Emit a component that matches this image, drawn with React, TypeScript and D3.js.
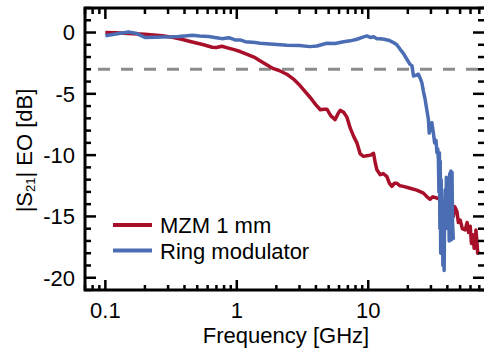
import React from "react";
import * as d3 from "d3";

const mzmFreq = [0.1,0.12,0.15,0.2,0.27,0.33,0.38,0.45,0.55,0.65,0.7,0.77,0.85,0.97,1.06,1.16,1.38,1.5,1.7,1.9,2.1,2.4,2.7,3.04,3.3,3.62,4.0,4.32,4.6,4.85,5.2,5.6,5.9,6.12,6.5,6.88,7.3,7.73,8.2,8.69,9.2,9.77,10.4,10.97,11.3,11.64,12.34,13.0,13.87,14.5,15.14,15.8,16.53,17.5,18.5,20.8,23.4,26.3,28.0,29.6,31.0,33.3,35.3,38.5,40.9,42.0,43.3,44.4,45.5,47.3,48.5,50.1,52.0,54.7,56.5,58.0,59.7,61.0,62.5,64.0,65.1,66.0,67.1,68.0,69.1];
const mzmDb = [0,-0.02,-0.08,-0.15,-0.27,-0.4,-0.55,-0.75,-0.98,-1.2,-1.22,-1.12,-1.25,-1.42,-1.55,-1.72,-2.05,-2.3,-2.65,-2.95,-3.1,-3.4,-3.8,-4.35,-4.8,-5.3,-5.9,-6.3,-6.25,-6.25,-6.8,-7.1,-6.6,-6.35,-6.5,-6.9,-7.8,-8.45,-9.0,-9.9,-10.1,-10.05,-10.0,-9.85,-10.6,-11.2,-11.6,-11.5,-11.75,-12.3,-12.55,-12.3,-12.3,-12.5,-12.55,-12.7,-12.85,-13.1,-13.4,-13.6,-13.4,-13.5,-13.6,-14.0,-14.8,-15.3,-14.6,-15.0,-14.2,-14.6,-15.5,-15.3,-16.0,-16.1,-15.5,-16.3,-15.8,-17.2,-16.5,-17.6,-17.5,-16.1,-17.0,-18.0,-17.8];

const ringFreq = [0.1,0.12,0.15,0.17,0.2,0.24,0.27,0.32,0.36,0.42,0.46,0.52,0.61,0.7,0.77,0.87,0.97,1.06,1.16,1.38,1.5,1.9,2.41,3.0,3.6,4.07,4.85,5.6,6.5,7.3,8.2,9.0,9.77,10.35,11.0,11.64,12.34,13.2,14.5,15.57,16.5,17.5,18.5,19.68,20.8,21.5,22.1,23.0,24.1,25.0,25.6,26.3,27.1,27.9,28.7,29.1,29.6,30.5,31.4,32.0,32.8,33.3,33.8,34.2,34.5,34.8,35.1,35.3,35.6,35.9,36.3,36.6,37.0,37.4,37.8,38.1,38.5,38.9,39.3,39.7,40.1,40.5,40.9,41.3,41.7,42.0,42.5,43.0,43.4,43.8,44.4];
const ringDb = [-0.27,-0.12,0.05,-0.05,-0.4,-0.38,-0.36,-0.35,-0.33,-0.26,-0.22,-0.28,-0.33,-0.42,-0.5,-0.42,-0.6,-0.6,-0.75,-0.82,-0.88,-0.95,-1.04,-1.05,-1.15,-1.1,-0.88,-0.9,-0.75,-0.68,-0.55,-0.4,-0.28,-0.4,-0.35,-0.5,-0.5,-0.55,-0.65,-0.82,-1.0,-1.37,-1.7,-2.18,-2.6,-2.7,-3.55,-3.5,-3.4,-3.8,-4.1,-4.8,-5.46,-6.3,-7.1,-8.2,-7.8,-7.36,-8.3,-9.0,-8.8,-9.8,-9.5,-10.4,-13.0,-9.8,-16.0,-10.5,-18.0,-12.0,-17.5,-14.0,-19.0,-16.5,-19.4,-15.0,-12.8,-16.0,-11.8,-14.5,-12.5,-15.5,-12.2,-17.0,-11.5,-16.0,-11.3,-16.9,-11.4,-15.5,-16.9];

const yMajor = [0, -5, -10, -15, -20];
const yMinor = d3.range(-21, 3, 1);
const xMajor = [0.1, 1, 10];
const xMajorLabels = ["0.1", "1", "10"];
const xMinor = [0.07,0.08,0.09,0.2,0.3,0.4,0.5,0.6,0.7,0.8,0.9,2,3,4,5,6,7,8,9,20,30,40,50,60,70];
const series = [
  { name: "MZM 1 mm", freq: mzmFreq, db: mzmDb, color: "#a8102a" },
  { name: "Ring modulator", freq: ringFreq, db: ringDb, color: "#4a6db3" },
];
const thresholdDb = -3;

const W = 484, H = 353;
const L = 85, R = 484, T = 8, B = 290;
const FONT = "'Liberation Sans', Arial, sans-serif";
const FS = 22;

export default function App() {
  const x = d3.scaleLog().domain([0.07, 76]).range([L, R]);
  const y = d3.scaleLinear().domain([-21, 2]).range([B, T]);
  const line = d3.line<[number, number]>().x(d => x(d[0])).y(d => y(d[1]));
  const majL = 11, minL = 6;
  return (
    <svg width={W} height={H} style={{ position: "fixed", left: 0, top: 0, background: "#fff" }} fontFamily={FONT}>
      <line x1={98} x2={R} y1={y(thresholdDb)} y2={y(thresholdDb)} stroke="#8c8c8c" strokeWidth={3} strokeDasharray="12 11" />
      {series.map(s => (
        <path key={s.name} d={line(s.freq.map((f, i) => [f, s.db[i]]) as [number, number][]) || ""} fill="none" stroke={s.color} strokeWidth={3.5} strokeLinejoin="round" />
      ))}
      <path d={`M${R + 2},${T} H${L} V${B} H${R + 2}`} fill="none" stroke="#000" strokeWidth={3} />
      {yMinor.map(v => {
        const len = yMajor.includes(v) ? majL : minL;
        return (
          <g key={"y" + v}>
            <line x1={L} x2={L + len} y1={y(v)} y2={y(v)} stroke="#000" strokeWidth={2.5} />
            <line x1={R} x2={R - len} y1={y(v)} y2={y(v)} stroke="#000" strokeWidth={2.5} />
          </g>
        );
      })}
      {yMajor.map(v => (
        <text key={"yl" + v} x={75} y={y(v)} dy="0.36em" textAnchor="end" fontSize={FS}>{v === 0 ? "0" : "-" + Math.abs(v)}</text>
      ))}
      {[...xMajor, ...xMinor].map(v => {
        const len = xMajor.includes(v) ? 10 : 5;
        return (
          <g key={"x" + v}>
            <line x1={x(v)} x2={x(v)} y1={B} y2={B - len} stroke="#000" strokeWidth={2.5} />
            <line x1={x(v)} x2={x(v)} y1={T} y2={T + len + 1} stroke="#000" strokeWidth={2.5} />
          </g>
        );
      })}
      {xMajor.map((v, i) => (
        <text key={"xl" + v} x={x(v)} y={318} textAnchor="middle" fontSize={FS}>{xMajorLabels[i]}</text>
      ))}
      <text x={286} y={343} textAnchor="middle" fontSize={FS}>Frequency [GHz]</text>
      <text transform={`translate(32,150.5) rotate(-90)`} textAnchor="middle" fontSize={FS}>
        |S<tspan fontSize={13} dy={3}>21</tspan><tspan dy={-3}>| EO [dB]</tspan>
      </text>
      {series.map((s, i) => (
        <g key={"lg" + s.name}>
          <line x1={113} x2={152} y1={225 + i * 25.5} y2={225 + i * 25.5} stroke={s.color} strokeWidth={4} />
          <text x={160} y={233 + i * 25.5} fontSize={FS}>{s.name}</text>
        </g>
      ))}
    </svg>
  );
}
